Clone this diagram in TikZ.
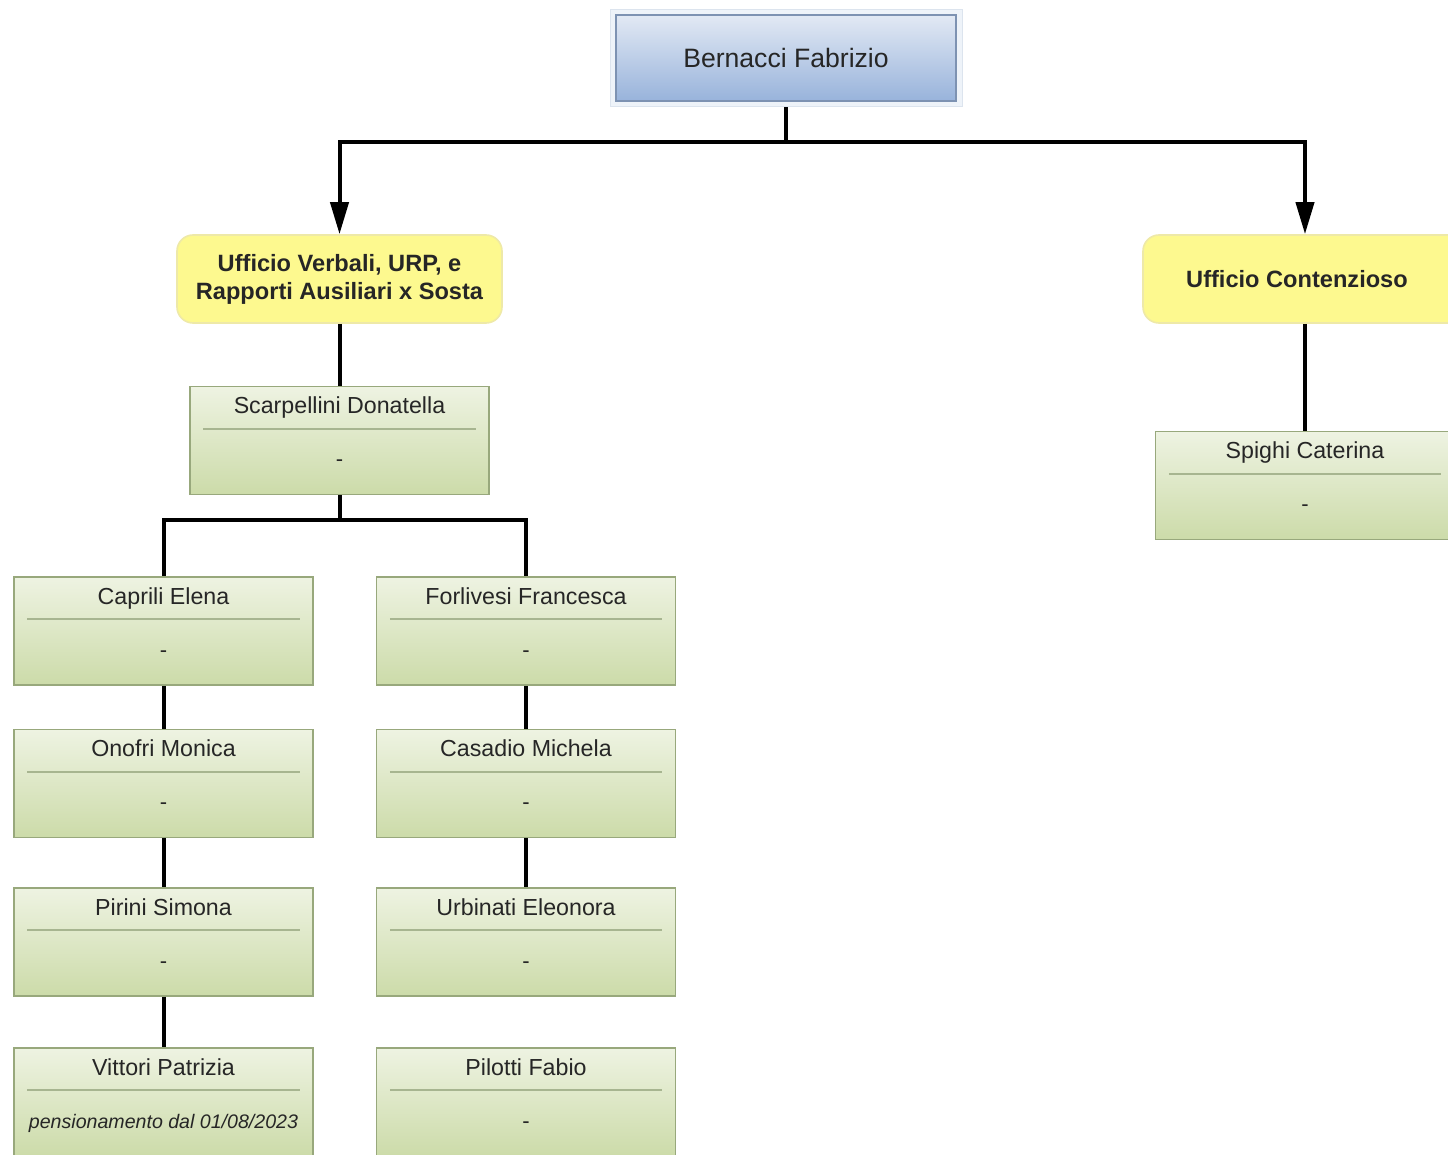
\documentclass[tikz,border=0pt]{standalone}
\usepackage{fontspec}
\setmainfont{Liberation Sans}
\usetikzlibrary{arrows.meta,calc}

\definecolor{bosstop}{HTML}{E2E9F4}
\definecolor{bossbottom}{HTML}{98B3DB}
\definecolor{bossline}{HTML}{7D92B2}
\definecolor{halofill}{HTML}{EEF3F9}
\definecolor{haloline}{HTML}{DCE4EE}
\definecolor{officefill}{HTML}{FDF98F}
\definecolor{officeline}{HTML}{EEE9A8}
\definecolor{stafftop}{HTML}{EEF3E2}
\definecolor{staffbottom}{HTML}{CCDBA9}
\definecolor{staffline}{HTML}{98A87C}
\definecolor{inktext}{HTML}{262626}

% green card: name on top, rule, role below
\newcommand{\staffbox}[4]{%
  \node[staffcard] (#1) at (#2) {};
  \node[staffname,anchor=base] at ($(#1.north)+(0pt,-14pt)$) {#3};
  \draw[staffrule] ($(#1.north west)+(7pt,-21.5pt)$) -- ($(#1.north east)+(-7pt,-21.5pt)$);
  \node[staffrole] at ($(#1.north)+(0pt,-37.5pt)$) {#4};
}

\begin{document}
\begin{tikzpicture}[x=0.5pt,y=-0.5pt]
\tikzset{
  halo/.style={draw=haloline,fill=halofill,line width=0.5pt,minimum width=176pt,minimum height=48.5pt,inner sep=0pt},
  bossbox/.style={draw=bossline,line width=0.8pt,top color=bosstop,bottom color=bossbottom,minimum width=170pt,minimum height=43pt,inner sep=0pt,text=inktext,font=\fontsize{13.3}{15}\selectfont},
  officebox/.style={draw=officeline,fill=officefill,line width=0.8pt,rounded corners=8pt,minimum height=44pt,inner sep=0pt,align=center,text=inktext,font=\bfseries\fontsize{11.8}{14}\selectfont},
  staffcard/.style={draw=staffline,line width=0.75pt,top color=stafftop,bottom color=staffbottom,minimum width=149.5pt,minimum height=54pt,inner sep=0pt},
  staffname/.style={inner sep=0pt,text=inktext,font=\fontsize{11.6}{13}\selectfont},
  staffrole/.style={inner sep=0pt,text height=8pt,text depth=2pt,text=inktext,font=\fontsize{11}{13}\selectfont},
  staffrule/.style={draw=staffline!85,line width=0.8pt},
  link/.style={line width=2pt,line join=miter},
  arrowlink/.style={link,-{Triangle[length=16pt,width=9pt]}}
}
\clip (0,0) rectangle (1448,1155);

% head of the office
\node[halo] (bossframe) at (786,58.5) {};
\node[bossbox] (boss) at (786,58) {Bernacci Fabrizio};

% the two offices
\node[officebox,minimum width=162.5pt] (verbali) at (339.5,279) {Ufficio Verbali, URP, e\\Rapporti Ausiliari x Sosta};
\node[officebox,minimum width=162pt] (contenzioso) at (1305,279) {\hspace*{-8pt}Ufficio Contenzioso};

% staff
\staffbox{scarpellini}{339.5,440.5}{Scarpellini Donatella}{-}
\staffbox{spighi}{1305,485.5}{Spighi Caterina}{-}
\staffbox{caprili}{163.5,631}{Caprili Elena}{-}
\staffbox{onofri}{163.5,783.5}{Onofri Monica}{-}
\staffbox{pirini}{163.5,942}{Pirini Simona}{-}
\staffbox{vittori}{163.5,1102}{Vittori Patrizia}{\itshape\fontsize{9.8}{12}\selectfont pensionamento dal 01/08/2023}
\staffbox{forlivesi}{526,631}{Forlivesi Francesca}{-}
\staffbox{casadio}{526,783.5}{Casadio Michela}{-}
\staffbox{urbinati}{526,942}{Urbinati Eleonora}{-}
\staffbox{pilotti}{526,1102}{Pilotti Fabio}{-}

% connectors
\coordinate (bossjoin) at (786,142);
\coordinate (teamjoin) at (339.5,520);
\draw[link] (bossframe.south) -- (bossjoin);
\draw[arrowlink] (bossjoin) -| (verbali.north);
\draw[arrowlink] (bossjoin) -| (contenzioso.north);
\draw[link] (verbali.south) -- (scarpellini.north);
\draw[link] (contenzioso.south) -- (spighi.north);
\draw[link] (scarpellini.south) -- (teamjoin);
\draw[link] (caprili.north) |- (teamjoin) -| (forlivesi.north);
\draw[link] (caprili.south) -- (onofri.north);
\draw[link] (onofri.south) -- (pirini.north);
\draw[link] (pirini.south) -- (vittori.north);
\draw[link] (forlivesi.south) -- (casadio.north);
\draw[link] (casadio.south) -- (urbinati.north);
\end{tikzpicture}
\end{document}
